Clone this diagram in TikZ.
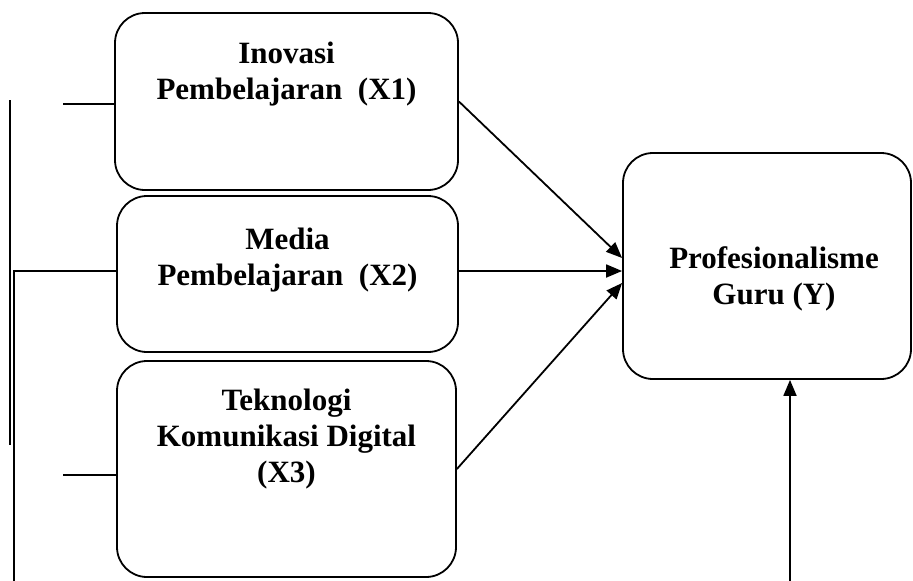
\documentclass[tikz,border=0pt]{standalone}
\usepackage{fontspec}
\setmainfont{Liberation Serif}
\usetikzlibrary{arrows.meta,calc}

\begin{document}
\begin{tikzpicture}[x=1pt,y=-1pt,
	kotak/.style={draw,line width=1.8pt,rounded corners=30pt,inner sep=0pt},
	teks/.style={anchor=north,align=center,inner sep=0pt,font=\bfseries\fontsize{31}{36}\selectfont},
	panah/.style={line width=1.8pt,-{Triangle[length=16pt,width=13pt]}},
	garis/.style={line width=1.8pt}]
	\useasboundingbox (0,0) rectangle (913,581);

	%variabel X
	\node[kotak,minimum width=343pt,minimum height=177pt](x1) at (286.5,101.5) {};
	\node[kotak,minimum width=341pt,minimum height=156pt](x2) at (287.5,274) {};
	\node[kotak,minimum width=339pt,minimum height=216pt](x3) at (286.5,469) {};
	\node[teks](x1label) at ($(x1.north)+(0,30)$) {Inovasi\\Pembelajaran\ \ (X1)};
	\node[teks](x2label) at ($(x2.north)+(0,33)$) {Media\\Pembelajaran\ \ (X2)};
	\node[teks](x3label) at ($(x3.north)+(0,29)$) {Teknologi\\Komunikasi Digital\\(X3)};

	%variabel Y
	\node[kotak,minimum width=288pt,minimum height=226pt](y) at (767,266) {};
	\node[teks](ylabel) at ($(y.north)+(7,94)$) {Profesionalisme\\Guru (Y)};

	%panah
	\coordinate (t1) at ($(y.west)+(0,-8)$);
	\coordinate (t2) at ($(y.west)+(0,5)$);
	\coordinate (t3) at ($(y.west)+(0,17)$);
	\draw[panah] (x1.east) -- (t1);
	\draw[panah] (x2.east |- t2) -- (t2);
	\draw[panah] (x3.east) -- (t3);
	\coordinate (ybawah) at (790,581);
	\draw[panah] (ybawah) -- (ybawah |- y.south);

	%garis kiri
	\coordinate (k1) at (10,100);
	\coordinate (k2) at (10,445);
	\draw[garis] (k1) -- (k2);
	\coordinate (c1) at (63,104);
	\draw[garis] (c1) -- (c1 -| x1.west);
	\coordinate (kiri) at (14,581);
	\draw[garis] (x2.west |- t2) -| (kiri);
	\coordinate (c3) at (63,475);
	\draw[garis] (c3) -- (c3 -| x3.west);
\end{tikzpicture}
\end{document}
